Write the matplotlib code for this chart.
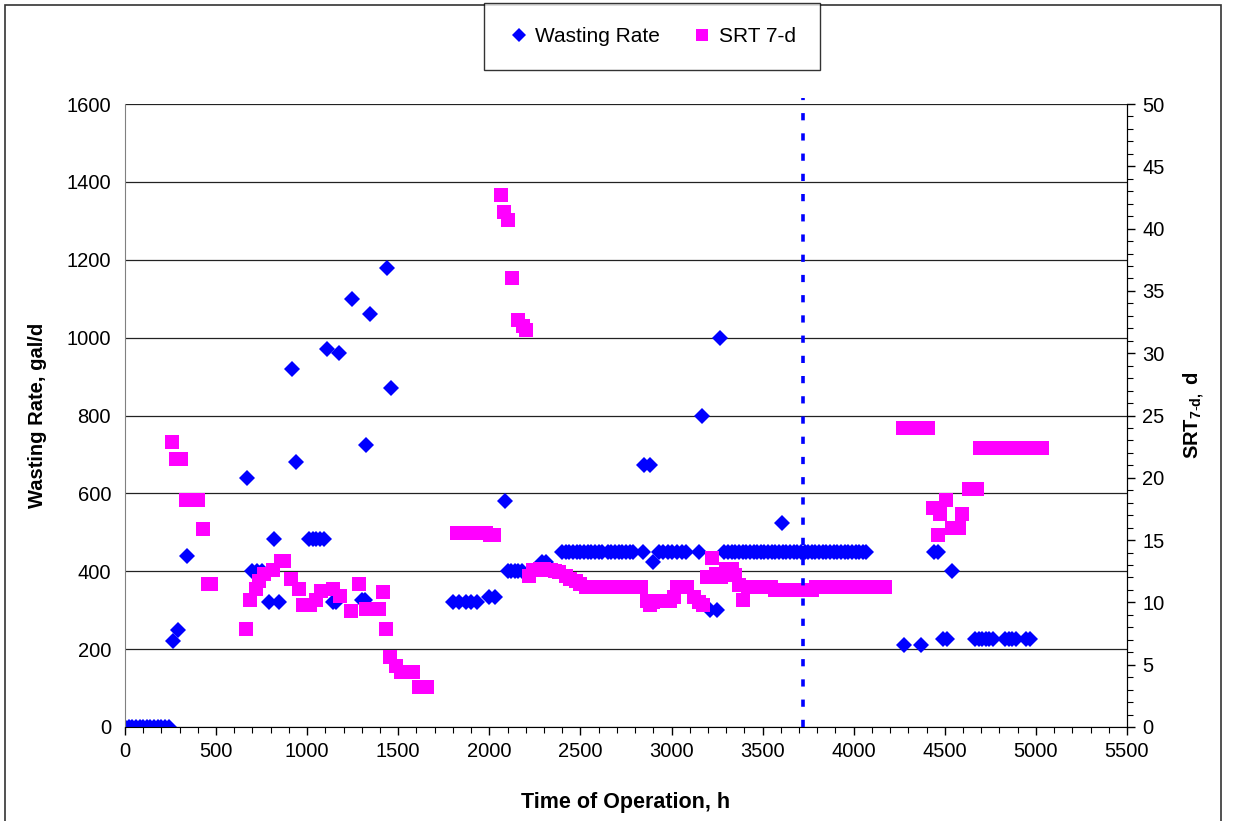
"""Wasting rate and 7-day SRT over time of operation."""

import matplotlib
matplotlib.use("Agg")
import matplotlib.pyplot as plt
from matplotlib.lines import Line2D
from matplotlib.patches import Rectangle
from matplotlib.ticker import MultipleLocator

plt.rcParams["font.family"] = ["Liberation Sans", "DejaVu Sans"]
plt.rcParams["mathtext.fontset"] = "custom"
plt.rcParams["mathtext.rm"] = "Liberation Sans"
plt.rcParams["mathtext.bf"] = "Liberation Sans:bold"

# Wasting rate, gal/d (left axis)
waste_hours = [
    0, 20, 40, 60, 80, 100, 120, 140, 160, 180, 200, 220, 240,
    265, 290, 340, 672, 700, 725, 750, 790, 845, 820, 915, 938,
    1010, 1030, 1050, 1070, 1090, 1108, 1173, 1140, 1160, 1248,
    1300, 1320, 1321, 1343, 1439, 1461,
    1800, 1835, 1870, 1900, 1930, 2000, 2030, 2088,
    2100, 2120, 2140, 2160, 2180, 2290, 2312,
    2400, 2420, 2440, 2460, 2480, 2500, 2520, 2540, 2560, 2580, 2600, 2620,
    2650, 2670, 2690, 2710, 2730, 2750, 2770, 2790, 2842, 2850, 2880, 2900,
    2930, 2955, 2980, 3005, 3030, 3055, 3080, 3150, 3167, 3210, 3250, 3265,
    3290, 3310, 3330, 3350, 3370, 3390, 3410, 3430, 3450, 3470, 3490, 3510,
    3530, 3550, 3570, 3590, 3610, 3630, 3650, 3670, 3690, 3710, 3730, 3750,
    3770, 3790, 3810, 3830, 3850, 3870, 3890, 3910, 3930, 3950, 3970, 3990,
    4010, 4030, 4050, 4070, 3609,
    4274, 4370, 4440, 4465, 4541, 4490, 4510,
    4665, 4685, 4705, 4725, 4745, 4765, 4830, 4850, 4870, 4890, 4945, 4965,
]
waste_rate = [
    0, 0, 0, 0, 0, 0, 0, 0, 0, 0, 0, 0, 0,
    220, 250, 440, 640, 400, 400, 400, 320, 320, 483, 920, 680,
    483, 483, 483, 483, 483, 970, 960, 320, 320, 1100,
    325, 325, 725, 1060, 1180, 870,
    320, 320, 320, 320, 320, 335, 335, 580,
    400, 400, 400, 400, 400, 425, 425,
    450, 450, 450, 450, 450, 450, 450, 450, 450, 450, 450, 450,
    450, 450, 450, 450, 450, 450, 450, 450, 450, 672, 672, 425,
    450, 450, 450, 450, 450, 450, 450, 450, 800, 300, 300, 1000,
    450, 450, 450, 450, 450, 450, 450, 450, 450, 450, 450, 450,
    450, 450, 450, 450, 450, 450, 450, 450, 450, 450, 450, 450,
    450, 450, 450, 450, 450, 450, 450, 450, 450, 450, 450, 450,
    450, 450, 450, 450, 525,
    210, 210, 450, 450, 400, 225, 225,
    225, 225, 225, 225, 225, 225, 225, 225, 225, 225, 225, 225,
]

# 7-day SRT, d (right axis)
srt_hours = [
    260, 280, 305, 335, 355, 375, 400, 431, 455, 475,
    666, 688, 719, 737, 765, 811, 857, 875, 912, 954, 976, 1013, 1050,
    1077, 1141, 1178, 1242, 1284, 1325, 1360, 1395, 1415, 1435, 1457,
    1490, 1515, 1545, 1580, 1615, 1640, 1660,
    1820, 1840, 1860, 1880, 1900, 1920, 1940, 1960, 1980, 2005, 2025,
    2062, 2083, 2105, 2125, 2156, 2184, 2202, 2220,
    2240, 2260, 2280, 2300, 2320, 2340, 2360, 2380, 2423, 2445, 2478, 2500,
    2530, 2550, 2570, 2590, 2610, 2630, 2650, 2670, 2690, 2710, 2730, 2750,
    2770, 2790, 2810, 2830, 2864, 2880, 2900, 2930, 2960, 2990, 3011,
    3030, 3060, 3085, 3121, 3150, 3175, 3195, 3220, 3245, 3270, 3300, 3330,
    3350, 3370, 3395, 3420,
    3445, 3470, 3495, 3520, 3545, 3570, 3595, 3620, 3645, 3670, 3695, 3720,
    3745, 3770, 3795, 3820, 3845, 3870, 3895, 3920, 3945, 3970, 3995, 4020,
    4045, 4070, 4095, 4120, 4145, 4170,
    4268, 4300, 4330, 4360, 4390, 4410, 4434, 4461, 4474, 4505,
    4541, 4560, 4577, 4597, 4631, 4655, 4676,
    4695, 4720, 4745, 4770, 4795, 4820, 4845, 4870, 4895, 4920, 4945, 4970,
    4995, 5020, 5035,
]
srt_days = [
    22.9, 21.5, 21.5, 18.2, 18.2, 18.2, 18.2, 15.9, 11.5, 11.5,
    7.9, 10.2, 11.1, 11.7, 12.3, 12.6, 13.3, 13.3, 11.9, 11.1, 9.8, 9.8, 10.2,
    10.9, 11.1, 10.5, 9.3, 11.5, 9.5, 9.5, 9.5, 10.8, 7.9, 5.6,
    4.9, 4.4, 4.4, 4.4, 3.2, 3.2, 3.2,
    15.6, 15.6, 15.6, 15.6, 15.6, 15.6, 15.6, 15.6, 15.6, 15.4, 15.4,
    42.7, 41.3, 40.7, 36.0, 32.7, 32.2, 31.9, 12.1,
    12.6, 12.6, 12.7, 12.7, 12.6, 12.6, 12.5, 12.4, 12.1, 11.9, 11.7, 11.5,
    11.25, 11.25, 11.25, 11.25, 11.25, 11.25, 11.25, 11.25, 11.25, 11.25, 11.25, 11.25,
    11.25, 11.25, 11.25, 11.25, 10.1, 9.8, 10.0, 10.1, 10.1, 10.1, 10.4,
    11.2, 11.2, 11.2, 10.4, 10.0, 9.8, 12.0, 13.6, 12.3, 12.0, 12.7, 12.7,
    12.2, 11.4, 10.2, 11.2,
    11.2, 11.2, 11.2, 11.2, 11.2, 11.0, 11.0, 11.0, 11.0, 11.0, 11.0, 11.0,
    11.0, 11.0, 11.2, 11.2, 11.2, 11.2, 11.2, 11.2, 11.2, 11.2, 11.2, 11.2,
    11.2, 11.2, 11.2, 11.2, 11.2, 11.2,
    24.0, 24.0, 24.0, 24.0, 24.0, 24.0, 17.6, 15.4, 17.1, 18.2,
    16.0, 16.0, 16.0, 17.1, 19.1, 19.1, 19.1,
    22.4, 22.4, 22.4, 22.4, 22.4, 22.4, 22.4, 22.4, 22.4, 22.4, 22.4, 22.4,
    22.4, 22.4, 22.4,
]

CHANGE_HOUR = 3722

BLUE = "#0000FF"
PINK = "#FF00FF"

fig = plt.figure(figsize=(12.36, 8.21), dpi=100)
ax = fig.add_axes([0.1011, 0.1145, 0.8107, 0.7588])
ax2 = ax.twinx()

ax.plot(waste_hours, waste_rate, linestyle="none", marker="D",
        markersize=8.3, color=BLUE, markeredgewidth=0)
ax2.plot(srt_hours, srt_days, linestyle="none", marker="s",
         markersize=10.5, color=PINK, markeredgewidth=0)
ax2.axvline(CHANGE_HOUR, ymax=1.01, color=BLUE, linewidth=2.6,
            linestyle=(0, (2, 3.6)), zorder=5, clip_on=False)

ax.set_xlim(0, 5500)
ax.set_ylim(0, 1600)
ax2.set_ylim(0, 50)

ax.xaxis.set_major_locator(MultipleLocator(500))
ax.xaxis.set_minor_locator(MultipleLocator(100))
ax.yaxis.set_major_locator(MultipleLocator(200))
ax2.yaxis.set_major_locator(MultipleLocator(5))
ax2.yaxis.set_minor_locator(MultipleLocator(1))

ax.grid(axis="y", color="#222222", linewidth=0.9)
ax.set_axisbelow(True)

for a in (ax, ax2):
    a.spines["top"].set_visible(False)
ax.spines["left"].set_color("#808080")
ax2.spines["left"].set_visible(False)
ax.spines["bottom"].set_color("black")
ax2.spines["bottom"].set_visible(False)
ax2.spines["right"].set_color("black")

ax.tick_params(axis="x", which="major", length=6, width=1, labelsize=14.5, pad=5)
ax.tick_params(axis="x", which="minor", length=4, width=0.8)
ax.tick_params(axis="y", length=0, labelsize=14.5, pad=10)
ax2.tick_params(axis="y", which="major", length=6, width=1, labelsize=14.5, pad=5)
ax2.tick_params(axis="y", which="minor", length=4, width=0.8)

ax.set_xlabel("Time of Operation, h", fontsize=15.5, fontweight="bold", labelpad=22)
ax.set_ylabel("Wasting Rate, gal/d", fontsize=14.5, fontweight="bold", labelpad=14)
ax2.set_ylabel(r"$\mathbf{SRT}_{\mathbf{7\text{-}d,}}$ d", fontsize=14.5,
               fontweight="bold", labelpad=12)

handles = [
    Line2D([], [], linestyle="none", marker="D", markersize=7,
           color=BLUE, markeredgewidth=0, label="Wasting Rate"),
    Line2D([], [], linestyle="none", marker="s", markersize=8,
           color=PINK, markeredgewidth=0, label="SRT 7-d"),
]
leg = fig.legend(handles=handles, loc="center", bbox_to_anchor=(0.5275, 0.955),
                 ncol=2, fontsize=15, frameon=True, fancybox=False,
                 edgecolor="black", borderpad=1.15, columnspacing=1.5,
                 handletextpad=0.3, handlelength=1.0)
leg.get_frame().set_linewidth(1.0)

fig.patches.append(Rectangle((0.004, -0.02), 0.9839, 1.0139,
                             transform=fig.transFigure, fill=False,
                             edgecolor="#333333", linewidth=1.2))

plt.savefig("out.png", dpi=100)
plt.close()
